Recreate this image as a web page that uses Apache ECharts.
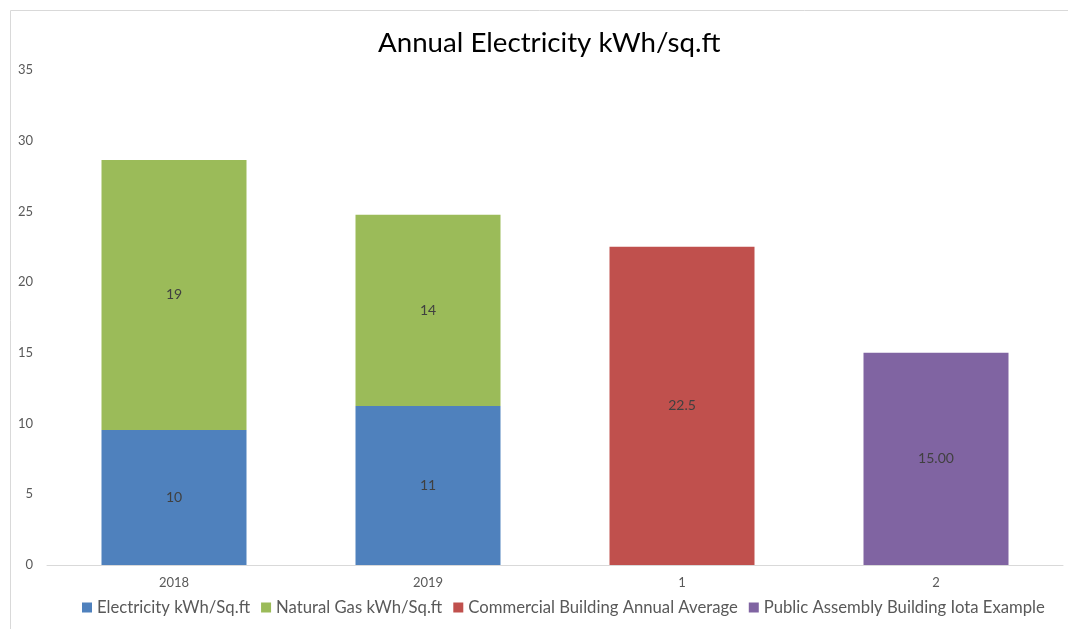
<html lang="en">
    <head>
        <meta charset="UTF-8">
        <title>Annual Electricity</title>
        <script src="https://cdn.jsdelivr.net/npm/echarts@6/dist/echarts.min.js"></script>
        <style>
            body { margin: 0; background: #fff; }
        </style>
    </head>
    <body>
        <div id="chart_1" style="width:1068px; height:629px;"></div>
        <script>
            // data
            var categories = ['2018', '2019', '1', '2'];
            var electricity = [9.55, 11.25, '-', '-'];
            var naturalGas = [19.09, 13.51, '-', '-'];
            var commercialAvg = ['-', '-', 22.5, '-'];
            var publicAssembly = ['-', '-', '-', 15.0];
            var yTicks = { min: 0, max: 35, step: 5 };

            let myChart = echarts.init(document.getElementById('chart_1'));

            var font = 'Lato, "Open Sans", sans-serif';

            function barLabel(fmt) {
                return {
                    show: true,
                    position: 'inside',
                    color: '#404040',
                    fontSize: 14,
                    fontFamily: font,
                    formatter: fmt
                };
            }

            var option = {
                animation: false,
                graphic: [{
                    type: 'rect',
                    left: 8,
                    top: 8,
                    shape: { width: 1200, height: 800 },
                    style: { fill: 'none', stroke: '#D9D9D9', lineWidth: 1 },
                    z: -1
                }],
                title: {
                    text: 'Annual Electricity kWh/sq.ft',
                    left: 373,
                    top: 24,
                    textStyle: { fontSize: 27.7, fontWeight: 'normal', color: '#000', fontFamily: font }
                },
                legend: {
                    top: 594,
                    left: 77,
                    itemWidth: 10,
                    itemHeight: 10,
                    itemGap: 11,
                    icon: 'rect',
                    textStyle: { fontSize: 16.7, color: '#595959', fontFamily: font }
                },
                grid: { left: 47, right: 5, top: 70, bottom: 64 },
                xAxis: {
                    type: 'category',
                    data: categories,
                    axisTick: { show: false },
                    axisLine: { lineStyle: { color: '#D9D9D9' } },
                    axisLabel: { color: '#595959', fontSize: 13, margin: 11, fontFamily: font }
                },
                yAxis: {
                    type: 'value',
                    min: yTicks.min,
                    max: yTicks.max,
                    interval: yTicks.step,
                    splitLine: { show: false },
                    axisLine: { show: false },
                    axisTick: { show: false },
                    axisLabel: { color: '#595959', fontSize: 13, margin: 14, fontFamily: font }
                },
                series: [{
                    name: 'Electricity kWh/Sq.ft',
                    type: 'bar',
                    stack: 'total',
                    barWidth: 145,
                    itemStyle: { color: '#4F81BD' },
                    label: barLabel(function (p) { return Math.round(p.value); }),
                    data: electricity
                }, {
                    name: 'Natural Gas kWh/Sq.ft',
                    type: 'bar',
                    stack: 'total',
                    barWidth: 145,
                    itemStyle: { color: '#9BBB59' },
                    label: barLabel(function (p) { return Math.round(p.value); }),
                    data: naturalGas
                }, {
                    name: 'Commercial Building Annual Average',
                    type: 'bar',
                    stack: 'total',
                    barWidth: 145,
                    itemStyle: { color: '#C0504D' },
                    label: barLabel(function (p) { return p.value.toFixed(1); }),
                    data: commercialAvg
                }, {
                    name: 'Public Assembly Building Iota Example',
                    type: 'bar',
                    stack: 'total',
                    barWidth: 145,
                    itemStyle: { color: '#8064A2' },
                    label: barLabel(function (p) { return p.value.toFixed(2); }),
                    data: publicAssembly
                }]
            };

            myChart.setOption(option);
        </script>
    </body>
</html>
